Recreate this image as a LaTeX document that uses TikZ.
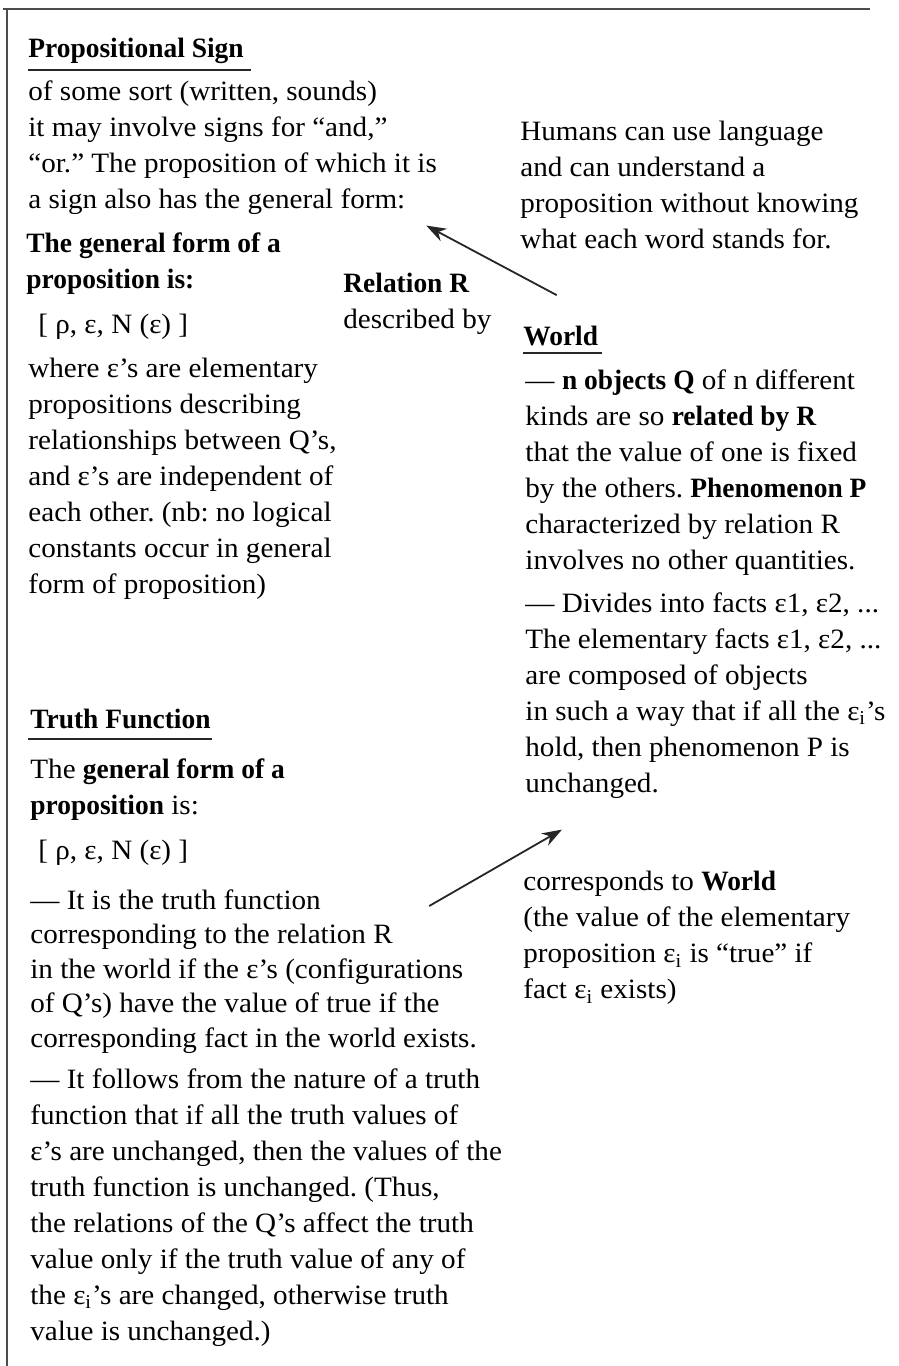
\documentclass[tikz,border=0pt]{standalone}
\usepackage{fontspec}
\setmainfont{Liberation Serif}[FakeStretch=1.04, BoldFeatures={FakeStretch=0.98}]
\usetikzlibrary{arrows.meta,calc}
\frenchspacing

\begin{document}
\begin{tikzpicture}[x=0.5pt, y=-0.5pt,
    every node/.style={inner sep=0pt, align=left},
    txt/.style={anchor=north west, font=\fontsize{14}{18}\selectfont},
    tighttxt/.style={anchor=north west, font=\fontsize{14}{17.25}\selectfont},
    heading/.style={anchor=base west, font=\fontsize{14}{18}\selectfont\bfseries},
    uline/.style={line width=1.1pt, black!85},
    frame/.style={line width=1pt, black!70},
    arr/.style={-{Stealth[length=10pt, width=7pt]}, line width=0.9pt, black!85},
]
\useasboundingbox (0,0) rectangle (899,1366);
% page frame
\draw[frame] (3,9) -- (870,9);
\draw[frame] (7,9) -- (7,1366);

% propositional sign (left, top)
\node[heading] (pshead) at (28,57) {Propositional Sign};
\node[txt] (psbody) at (28,80) {of some sort (written, sounds)\\
  it may involve signs for “and,”\\
  “or.” The proposition of which it is\\
  a sign also has the general form:};
\node[txt, font=\fontsize{14}{18}\selectfont\bfseries] (psform) at (26,232) {The general form of a\\ proposition is:};
\node[txt] (psbrack) at (38,314) {[ ρ, ε, N (ε) ]};
\node[txt] (pswhere) at (28,358) {where ε’s are elementary\\
  propositions describing\\
  relationships between Q’s,\\
  and ε’s are independent of\\
  each other. (nb: no logical\\
  constants occur in general\\
  form of proposition)};

\node[txt] (relR) at (343,273) {\textbf{Relation R}\\ described by};

% world (right)
\node[txt] (humans) at (520,121) {Humans can use language\\
  and can understand a\\
  proposition without knowing\\
  what each word stands for.};
\node[heading] (worldhead) at (523,345) {World};
\node[txt] (worldbody) at (525,369) {— \textbf{n objects Q} of n different\\
  kinds are so \textbf{related by R}\\
  that the value of one is fixed\\
  by the others. \textbf{Phenomenon P}\\
  characterized by relation R\\
  involves no other quantities.\\[3.5pt]
  — Divides into facts ε1, ε2, ...\\
  The elementary facts ε1, ε2, ...\\
  are composed of objects\\
  in such a way that if all the ε\textsubscript{i}’s\\
  hold, then phenomenon P is\\
  unchanged.};

% truth function (left, bottom)
\node[heading] (tfhead) at (30,728) {Truth Function};
\node[txt] (tfform) at (30,758) {The \textbf{general form of a}\\ \textbf{proposition} is:};
\node[txt] (tfbrack) at (38,840) {[ ρ, ε, N (ε) ]};
\node[tighttxt] (tfbody) at (30,889) {— It is the truth function\\
  corresponding to the relation R\\
  in the world if the ε’s (configurations\\
  of Q’s) have the value of true if the\\
  corresponding fact in the world exists.};
\node[txt] (tffollow) at (30,1068) {— It follows from the nature of a truth\\
  function that if all the truth values of\\
  ε’s are unchanged, then the values of the\\
  truth function is unchanged. (Thus,\\
  the relations of the Q’s affect the truth\\
  value only if the truth value of any of\\
  the ε\textsubscript{i}’s are changed, otherwise truth\\
  value is unchanged.)};

\node[txt] (corresp) at (523,871) {corresponds to \textbf{World}\\
  (the value of the elementary\\
  proposition ε\textsubscript{i} is “true” if\\
  fact ε\textsubscript{i} exists)};

% underlines
\draw[uline] ($(pshead.base west)+(0,13)$) -- ($(pshead.base east)+(7,13)$);
\draw[uline] ($(worldhead.base west)+(0,8)$) -- ($(worldhead.base east)+(3,8)$);
\draw[uline] ($(tfhead.base west)+(-2,11)$) -- ($(tfhead.base east)+(1,11)$);

% arrows
\draw[arr] ($(worldhead.north)+(-4,-30)$) -- ($(psbody.south east)+(-11,11)$);
\draw[arr] ($(tfbody.north east)+(-48,17)$) -- ($(worldbody.south west)+(37,31)$);
\end{tikzpicture}
\end{document}
